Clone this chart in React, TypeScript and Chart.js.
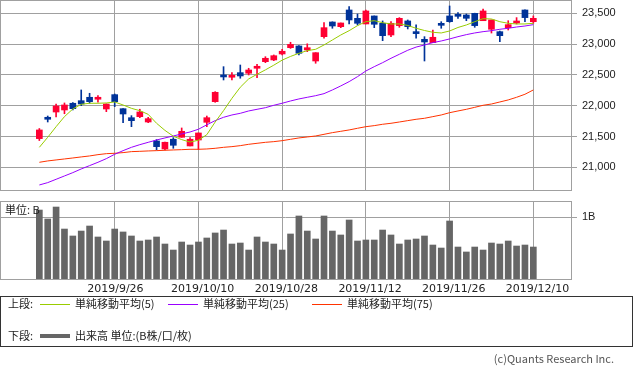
import React, { useEffect, useRef } from "react";
import { Chart, registerables } from "chart.js";
Chart.register(...registerables);

// ---------- data ----------
const dates = [
  "2019/9/11","2019/9/12","2019/9/13","2019/9/17","2019/9/18","2019/9/19","2019/9/20","2019/9/24","2019/9/25","2019/9/26",
  "2019/9/27","2019/9/30","2019/10/1","2019/10/2","2019/10/3","2019/10/4","2019/10/7","2019/10/8","2019/10/9","2019/10/10",
  "2019/10/11","2019/10/15","2019/10/16","2019/10/17","2019/10/18","2019/10/21","2019/10/23","2019/10/24","2019/10/25","2019/10/28",
  "2019/10/29","2019/10/30","2019/10/31","2019/11/1","2019/11/5","2019/11/6","2019/11/7","2019/11/8","2019/11/11","2019/11/12",
  "2019/11/13","2019/11/14","2019/11/15","2019/11/18","2019/11/19","2019/11/20","2019/11/21","2019/11/22","2019/11/25","2019/11/26",
  "2019/11/27","2019/11/28","2019/11/29","2019/12/2","2019/12/3","2019/12/4","2019/12/5","2019/12/6","2019/12/9","2019/12/10",
];
const tickDates = ["2019/9/26", "2019/10/10", "2019/10/28", "2019/11/12", "2019/11/26", "2019/12/10"];

const opens = [
  21466,21790,21898,21931,22040,22082,22137,22105,21947,22180,
  21952,21806,21822,21736,21428,21298,21456,21488,21347,21444,
  21731,22066,22483,22462,22537,22527,22608,22715,22743,22840,
  22942,22970,22905,22726,23121,23359,23283,23554,23419,23327,
  23457,23338,23148,23300,23376,23186,23078,23024,23316,23457,
  23462,23473,23500,23380,23241,23202,23267,23343,23554,23364,
];
const highs = [
  21630,21833,22028,22045,22050,22256,22202,22163,22030,22190,
  21955,21839,21943,21812,21450,21410,21482,21639,21482,21558,
  21833,22228,22634,22537,22661,22608,22673,22796,22824,22916,
  23030,22975,23005,22861,23348,23362,23343,23608,23489,23554,
  23457,23376,23364,23430,23392,23311,23121,23229,23364,23619,
  23510,23489,23502,23570,23392,23210,23380,23430,23556,23457,
];
const lows = [
  21435,21736,21817,21870,21930,22001,22040,22056,21904,21985,
  21725,21660,21806,21725,21282,21282,21309,21488,21347,21290,
  21660,22056,22418,22418,22446,22499,22456,22699,22731,22824,
  22930,22824,22877,22689,23095,23257,23267,23327,23311,23327,
  23267,23056,23121,23273,23246,23095,22726,23024,23257,23354,
  23419,23380,23273,23380,23180,23040,23229,23327,23364,23338,
];
const closes = [
  21607,21780,21995,22012,21952,22028,22066,22112,22028,22066,
  21866,21757,21899,21790,21336,21407,21358,21585,21456,21558,
  21806,22218,22467,22478,22483,22580,22624,22770,22812,22884,
  22995,22851,22942,22861,23267,23294,23343,23392,23338,23538,
  23322,23137,23338,23419,23283,23170,23035,23111,23305,23364,
  23451,23419,23300,23538,23392,23137,23316,23354,23430,23419,
];
const ma5 = [
  21325,21488,21660,21823,21947,22023,22040,22040,22045,22061,
  22012,21958,21920,21860,21715,21600,21505,21450,21410,21440,
  21530,21735,21920,22120,22300,22435,22510,22582,22658,22740,
  22800,22851,22894,22916,22986,23067,23148,23218,23300,23364,
  23380,23348,23327,23327,23303,23257,23221,23192,23181,23213,
  23270,23311,23364,23413,23408,23364,23338,23327,23327,23338,
];
const ma25 = [
  20714,20752,20806,20860,20914,20974,21028,21082,21141,21212,
  21271,21325,21368,21406,21444,21477,21509,21542,21574,21618,
  21690,21758,21812,21850,21877,21915,21942,21968,22007,22040,
  22077,22110,22137,22163,22196,22256,22321,22391,22472,22564,
  22634,22699,22770,22835,22900,22952,22986,23024,23051,23084,
  23121,23154,23181,23202,23218,23241,23257,23278,23294,23316,
];
const ma75 = [
  21082,21104,21120,21136,21152,21169,21185,21206,21222,21228,
  21239,21255,21260,21266,21271,21277,21282,21287,21293,21293,
  21298,21309,21325,21336,21352,21374,21390,21406,21417,21433,
  21455,21477,21493,21509,21536,21563,21585,21607,21634,21660,
  21677,21699,21715,21736,21758,21780,21796,21823,21850,21887,
  21915,21942,21974,22007,22028,22061,22094,22137,22186,22256,
];
const volumes = [
  1.116,0.973,1.164,0.813,0.702,0.781,0.861,0.686,0.622,0.813,
  0.766,0.702,0.622,0.638,0.686,0.574,0.478,0.606,0.558,0.606,
  0.670,0.750,0.797,0.574,0.590,0.478,0.686,0.606,0.574,0.478,
  0.734,1.021,0.781,0.654,1.021,0.781,0.718,0.957,0.622,0.638,
  0.638,0.797,0.718,0.574,0.638,0.654,0.702,0.558,0.510,0.941,
  0.526,0.447,0.526,0.478,0.590,0.574,0.622,0.542,0.558,0.526,
];
const priceTicks = [21000, 21500, 22000, 22500, 23000, 23500];
const volumeTicks = [1];
const volumeUnit = "B";
const upperTitle = "上段:";
const lowerTitle = "下段:";
const maLabels = ["単純移動平均(5)", "単純移動平均(25)", "単純移動平均(75)"];
const volumeLabel = "出来高 単位:(B株/口/枚)";
const unitLabel = "単位: B";
const copyright = "(c)Quants Research Inc.";

// ---------- styles ----------
const RED = "#FF0033";
const BLUE = "#003399";
const C_MA5 = "#99CC00";
const C_MA25 = "#9900FF";
const C_MA75 = "#FF3300";
const C_VOL = "#666666";
const GRID = "#A0A0A0";
const JP = '"Noto Sans CJK JP", "Noto Sans", sans-serif';
const XMIN = -4.7;
const XMAX = 63.5;
const AXIS_W = 62;

const tickIdx = tickDates.map((d) => dates.indexOf(d));

const borderPlugin = {
  id: "areaBorder",
  afterDraw(chart: any) {
    const { ctx, chartArea: a } = chart;
    ctx.save();
    ctx.strokeStyle = GRID;
    ctx.lineWidth = 1;
    const l = Math.round(a.left) + 0.5;
    const t = Math.round(a.top) + 0.5;
    const r = Math.round(a.right) + 0.5;
    const b = Math.round(a.bottom) - 0.5;
    ctx.strokeRect(l, t, r - l, b - t);
    ctx.restore();
  },
};

function xScale(showLabels: boolean) {
  return {
    type: "linear",
    min: XMIN,
    max: XMAX,
    offset: false,
    grid: { color: GRID, lineWidth: 1, drawTicks: false, offset: false },
    border: { display: false },
    ticks: {
      display: showLabels,
      autoSkip: false,
      maxRotation: 0,
      minRotation: 0,
      align: "start",
      labelOffset: -27.5,
      padding: 3,
      color: "#222",
      font: { family: '"DejaVu Sans", sans-serif', size: 11 },
      callback: (v: number) => dates[v] ?? "",
    },
    afterBuildTicks: (s: any) => {
      s.ticks = tickIdx.map((v) => ({ value: v }));
    },
    afterFit: (s: any) => {
      s.height = showLabels ? 16 : 0;
      s.paddingLeft = 0;
      s.paddingRight = 0;
    },
  };
}

export default function App() {
  const topRef = useRef<HTMLCanvasElement>(null);
  const botRef = useRef<HTMLCanvasElement>(null);

  useEffect(() => {
    const idx = dates.map((_, i) => i);
    const candleColors = idx.map((i) => (closes[i] >= opens[i] ? RED : BLUE));

    const top = new Chart(topRef.current!, {
      type: "bar",
      data: {
        datasets: [
          {
            type: "line",
            data: idx.map((i) => ({ x: i, y: ma5[i] })),
            borderColor: C_MA5,
            borderWidth: 1,
            pointRadius: 0,
            order: 0,
          },
          {
            type: "line",
            data: idx.map((i) => ({ x: i, y: ma25[i] })),
            borderColor: C_MA25,
            borderWidth: 1,
            pointRadius: 0,
            order: 0,
          },
          {
            type: "line",
            data: idx.map((i) => ({ x: i, y: ma75[i] })),
            borderColor: C_MA75,
            borderWidth: 1,
            pointRadius: 0,
            order: 0,
          },
          {
            type: "bar",
            data: idx.map((i) => ({ x: i, y: [opens[i], closes[i]] })),
            backgroundColor: candleColors,
            barThickness: 6,
            minBarLength: 2,
            grouped: false,
            borderWidth: 0,
            order: 1,
          },
          {
            type: "bar",
            data: idx.map((i) => ({ x: i, y: [lows[i], highs[i]] })),
            backgroundColor: candleColors,
            barThickness: 1,
            grouped: false,
            borderWidth: 0,
            order: 2,
          },
        ] as any,
      },
      options: {
        animation: false,
        responsive: false,
        devicePixelRatio: 1,
        events: [],
        layout: { padding: 0 },
        plugins: { legend: { display: false }, tooltip: { enabled: false } },
        scales: {
          x: xScale(false) as any,
          y: {
            type: "linear",
            position: "right",
            min: 20616,
            max: 23716,
            beginAtZero: false,
            grid: { color: GRID, lineWidth: 1, drawTicks: true, tickLength: 6 },
            border: { display: false },
            ticks: {
              padding: 5,
              color: "#222",
              font: { family: '"Liberation Sans", sans-serif', size: 11 },
              callback: (v: number) => Number(v).toLocaleString("en-US"),
            },
            afterBuildTicks: (s: any) => {
              s.ticks = priceTicks.map((v) => ({ value: v }));
            },
            afterFit: (s: any) => {
              s.width = AXIS_W;
              s.paddingTop = 0;
              s.paddingBottom = 0;
            },
          } as any,
        },
      },
      plugins: [borderPlugin],
    });

    const OY = 201;
    const overlayPlugin = {
      id: "overlay",
      afterDraw(chart: any) {
        const ctx = chart.ctx as CanvasRenderingContext2D;
        ctx.save();
        ctx.font = `11px ${JP}`;
        ctx.fillStyle = "#222";
        ctx.textBaseline = "middle";
        ctx.textAlign = "left";
        ctx.fillText(unitLabel, 5, 209.5 - OY);

        // legend box
        ctx.strokeStyle = "#333";
        ctx.lineWidth = 1;
        ctx.strokeRect(0.5, 296.5 - OY, 632, 50);

        const y1 = 304 - OY;
        const y2 = 336 - OY;
        ctx.fillText(upperTitle, 8, y1);
        const items = [
          { c: C_MA5, x1: 40, x2: 70, tx: 75 },
          { c: C_MA25, x1: 168, x2: 198, tx: 203 },
          { c: C_MA75, x1: 312, x2: 342, tx: 347 },
        ];
        items.forEach((it, k) => {
          ctx.strokeStyle = it.c;
          ctx.lineWidth = 1;
          ctx.beginPath();
          ctx.moveTo(it.x1, y1 + 0.5);
          ctx.lineTo(it.x2, y1 + 0.5);
          ctx.stroke();
          ctx.fillText(maLabels[k], it.tx, y1);
        });
        ctx.fillText(lowerTitle, 8, y2);
        ctx.strokeStyle = C_VOL;
        ctx.lineWidth = 4;
        ctx.beginPath();
        ctx.moveTo(40, y2);
        ctx.lineTo(70, y2);
        ctx.stroke();
        ctx.fillText(volumeLabel, 75, y2);

        ctx.fillStyle = "#555";
        ctx.textAlign = "right";
        ctx.fillText(copyright, 614, 358.5 - OY);
        ctx.restore();
      },
    };

    const bot = new Chart(botRef.current!, {
      type: "bar",
      data: {
        datasets: [
          {
            data: idx.map((i) => ({ x: i, y: volumes[i] })),
            backgroundColor: C_VOL,
            barThickness: 6,
            borderWidth: 0,
            grouped: false,
          },
        ] as any,
      },
      options: {
        animation: false,
        responsive: false,
        devicePixelRatio: 1,
        events: [],
        layout: { padding: { top: 0, left: 0, right: 0, bottom: 77 } },
        plugins: { legend: { display: false }, tooltip: { enabled: false } },
        scales: {
          x: xScale(true) as any,
          y: {
            type: "linear",
            position: "right",
            min: 0,
            max: 1.26,
            grid: { color: GRID, lineWidth: 1, drawTicks: true, tickLength: 6 },
            border: { display: false },
            ticks: {
              padding: 5,
              color: "#222",
              font: { family: '"Liberation Sans", sans-serif', size: 11 },
              callback: (v: number) => `${v}${volumeUnit}`,
            },
            afterBuildTicks: (s: any) => {
              s.ticks = volumeTicks.map((v) => ({ value: v }));
            },
            afterFit: (s: any) => {
              s.width = AXIS_W;
              s.paddingTop = 0;
              s.paddingBottom = 0;
            },
          } as any,
        },
      },
      plugins: [borderPlugin, overlayPlugin],
    });

    return () => {
      top.destroy();
      bot.destroy();
    };
  }, []);

  return (
    <div style={{ position: "absolute", left: 0, top: 0, width: 633, height: 373, background: "#fff" }}>
      <canvas
        ref={topRef}
        width={633}
        height={191}
        style={{ position: "absolute", left: 0, top: 0, width: 633, height: 191 }}
      />
      <canvas
        ref={botRef}
        width={633}
        height={172}
        style={{ position: "absolute", left: 0, top: 201, width: 633, height: 172 }}
      />
    </div>
  );
}
